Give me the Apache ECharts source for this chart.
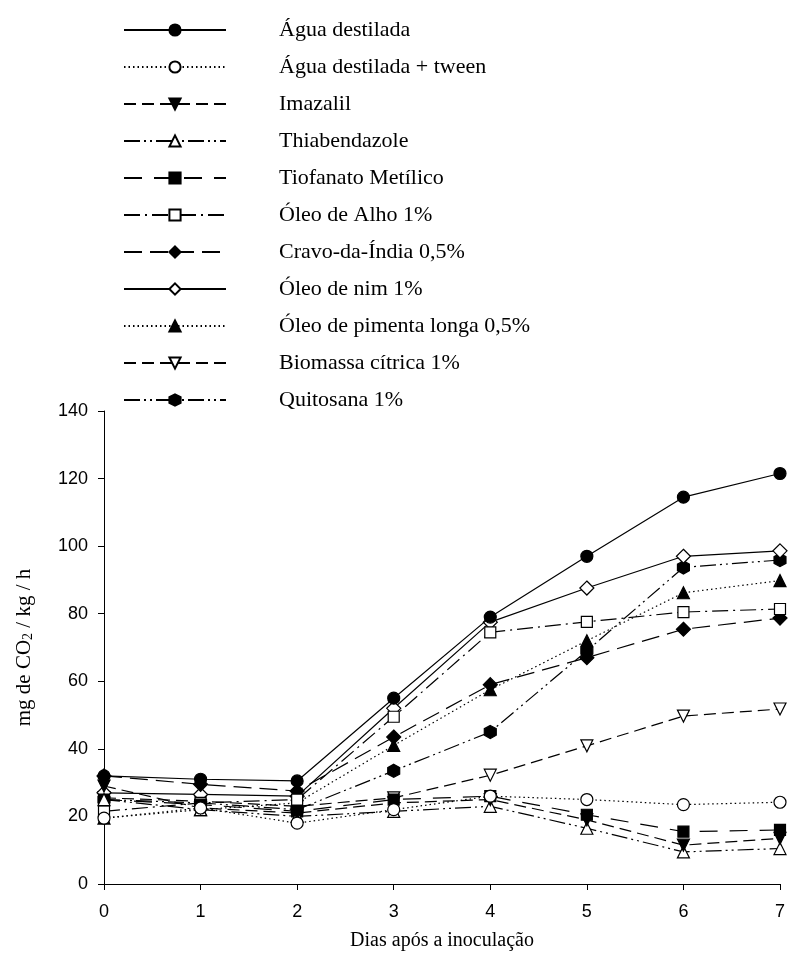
<!DOCTYPE html>
<html><head><meta charset="utf-8">
<script src="https://cdn.jsdelivr.net/npm/echarts@6/dist/echarts.min.js"></script>
<style>html,body{margin:0;padding:0;background:#fff}#c{width:788px;height:964px}</style>
</head><body><div id="c"></div>
<script>
const days = [0, 1, 2, 3, 4, 5, 6, 7];
const yTicks = [0, 20, 40, 60, 80, 100, 120, 140];
const seriesNames = ["Água destilada", "Água destilada + tween", "Imazalil", "Thiabendazole", "Tiofanato Metílico", "Óleo de Alho 1%", "Cravo-da-Índia 0,5%", "Óleo de nim 1%", "Óleo de pimenta longa 0,5%", "Biomassa cítrica 1%", "Quitosana 1%"];
const aguaDestilada = [32, 31, 30.5, 55, 79, 97, 114.5, 121.5];
const aguaTween = [19.5, 22.5, 18, 22, 26, 25, 23.5, 24.2];
const imazalil = [29, 22.5, 21, 24, 25, 19, 11.5, 13.5];
const thiabendazole = [25, 22, 20, 21.5, 23, 16.5, 9.5, 10.5];
const tiofanato = [25, 23.5, 21.5, 25, 26, 20.5, 15.5, 16];
const oleoAlho = [21.5, 24, 25, 49.5, 74.5, 77.6, 80.5, 81.4];
const cravo = [32, 29.5, 27.5, 43.5, 59, 67, 75.4, 78.7];
const oleoNim = [27, 26.5, 26, 52, 77.5, 87.6, 97, 98.6];
const pimenta = [19.5, 22, 24, 41, 57.5, 72, 86.2, 89.8];
const biomassa = [25.5, 24.5, 23, 25.5, 32.2, 40.9, 49.7, 51.8];
const quitosana = [25, 24, 22, 33.5, 45, 69, 93.7, 95.9];
const allValues = [aguaDestilada, aguaTween, imazalil, thiabendazole, tiofanato, oleoAlho, cravo, oleoNim, pimenta, biomassa, quitosana];

const hex = 'path://M5,0 L10,2.9 L10,8.7 L5,11.6 L0,8.7 L0,2.9 Z';
const styles = [
  {sym:'circle', fill:true, dash:'solid', rot:0},
  {sym:'circle', fill:false, dash:[1.5,3], rot:0},
  {sym:'triangle', fill:true, dash:[12,6], rot:180},
  {sym:'triangle', fill:false, dash:[16,4,2,4,2,4], rot:0},
  {sym:'rect', fill:true, dash:[18,12], rot:0},
  {sym:'rect', fill:false, dash:[16,5,2,5], rot:0},
  {sym:'diamond', fill:true, dash:[18,8], rot:0},
  {sym:'diamond', fill:false, dash:'solid', rot:0},
  {sym:'triangle', fill:true, dash:[1.5,3], rot:0},
  {sym:'triangle', fill:false, dash:[12,6], rot:180},
  {sym:hex, fill:true, dash:[16,4,2,4,2,4], rot:0}
];
const sizes = {circle:12, rect:11, diamond:14, triangle:12};

const series = seriesNames.map((n, i) => {
  const s = styles[i];
  return {
    name: n, type: 'line',
    data: days.map((d, j) => [d, allValues[i][j]]),
    symbol: s.sym, symbolRotate: s.rot,
    symbolSize: s.sym === hex ? [12, 13] : sizes[s.sym],
    showAllSymbol: true, clip: false,
    lineStyle: {color: '#000', width: 1.2, type: s.dash},
    itemStyle: {color: s.fill ? '#000' : '#fff', borderColor: '#000', borderWidth: 1.2},
    emphasis: {disabled: true},
    z: 10 - i
  };
});

const chart = echarts.init(document.getElementById('c'), null, {renderer: 'canvas'});
chart.setOption({
  animation: false,
  backgroundColor: '#fff',
  legend: {
    orient: 'vertical', left: 118, top: 14,
    itemWidth: 102, itemHeight: 14, itemGap: 15,
    data: seriesNames,
    textStyle: {fontFamily: 'Liberation Serif', fontSize: 22, color: '#000', padding: [0, 0, 0, 48]},
    selectedMode: false
  },
  grid: {left: 104, right: 8, top: 411, bottom: 80, containLabel: false},
  xAxis: {
    type: 'value', min: 0, max: 7, interval: 1,
    name: 'Dias após a inoculação', nameLocation: 'middle', nameGap: 47,
    nameTextStyle: {fontFamily: 'Liberation Serif', fontSize: 20, color: '#000'},
    axisLine: {show: true, lineStyle: {color: '#000', width: 1}},
    axisTick: {show: true, length: 6, lineStyle: {color: '#000'}},
    axisLabel: {fontFamily: 'Liberation Sans', fontSize: 18, color: '#000', margin: 19},
    splitLine: {show: false}
  },
  yAxis: {
    type: 'value', min: 0, max: 140, interval: 20,
    name: 'mg de CO{s|2} / kg / h', nameLocation: 'middle', nameGap: 69, nameRotate: 90,
    nameTextStyle: {fontFamily: 'Liberation Serif', fontSize: 21, color: '#000',
      rich: {s: {fontFamily: 'Liberation Serif', fontSize: 14, color: '#000', verticalAlign: 'bottom', padding: [8, 0, 0, 0]}}},
    axisLine: {show: true, lineStyle: {color: '#000', width: 1}},
    axisTick: {show: true, length: 6, lineStyle: {color: '#000'}},
    axisLabel: {fontFamily: 'Liberation Sans', fontSize: 18, color: '#000', margin: 16,
      formatter: v => yTicks.includes(v) ? String(v) : ''},
    splitLine: {show: false}
  },
  series: series
});
</script></body></html>
